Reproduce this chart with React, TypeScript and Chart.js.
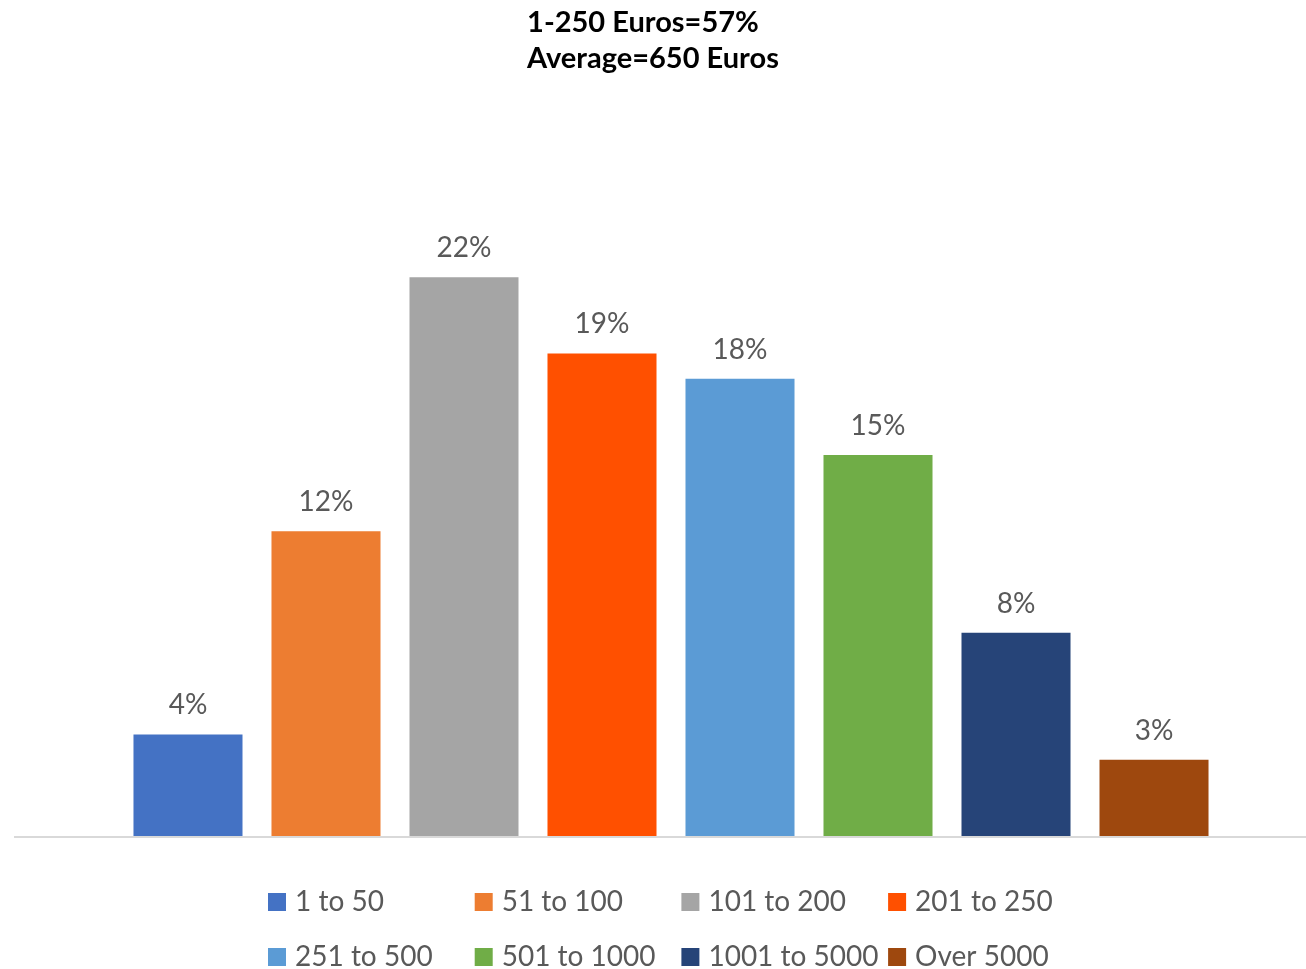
import React, { useEffect, useRef } from "react";
import { Chart, registerables } from "chart.js";

Chart.register(...registerables);

const TITLE_LINES = ["1-250 Euros=57%", "Average=650 Euros"];
const CATEGORIES = ["1 to 50", "51 to 100", "101 to 200", "201 to 250", "251 to 500", "501 to 1000", "1001 to 5000", "Over 5000"];
const VALUES = [4, 12, 22, 19, 18, 15, 8, 3];
const COLORS = ["#4472C4", "#ED7D31", "#A5A5A5", "#FF5000", "#5B9BD5", "#70AD47", "#264478", "#9E480E"];
const Y_MAX = 25;

const FONT = "Lato, 'Open Sans', sans-serif";
const LABEL_COLOR = "#595959";
const VIEW_W = 1306;
const VIEW_H = 969;
const CANVAS_W = 1328;

const excelPlugin = {
  id: "excelDecor",
  afterDatasetsDraw(chart: any) {
    const ctx = chart.ctx as CanvasRenderingContext2D;
    const { left, bottom } = chart.chartArea;
    ctx.save();
    // baseline
    ctx.strokeStyle = "#D9D9D9";
    ctx.lineWidth = 2;
    ctx.beginPath();
    ctx.moveTo(left, bottom + 1);
    ctx.lineTo(chart.width, bottom + 1);
    ctx.stroke();

    // data labels
    ctx.fillStyle = LABEL_COLOR;
    ctx.font = `28px ${FONT}`;
    ctx.textAlign = "center";
    ctx.textBaseline = "alphabetic";
    chart.data.datasets.forEach((ds: any, i: number) => {
      const meta = chart.getDatasetMeta(i);
      meta.data.forEach((el: any, j: number) => {
        ctx.fillText(`${ds.data[j]}%`, el.x, el.y - 20);
      });
    });

    // title (left-aligned block, centred in the visible view)
    ctx.fillStyle = "#000000";
    ctx.font = `bold 29px ${FONT}`;
    ctx.textAlign = "left";
    const widths = TITLE_LINES.map((t) => ctx.measureText(t).width);
    const x0 = VIEW_W / 2 - Math.max(...widths) / 2;
    TITLE_LINES.forEach((t, k) => ctx.fillText(t, x0, 32 + k * 36));

    // legend
    ctx.font = `28px ${FONT}`;
    chart.data.datasets.forEach((ds: any, i: number) => {
      const col = i % 4;
      const row = Math.floor(i / 4);
      const x = 268 + col * 206.7;
      const y = 911 + row * 55;
      ctx.fillStyle = ds.backgroundColor;
      ctx.fillRect(x, y - 18, 18, 18);
      ctx.fillStyle = LABEL_COLOR;
      ctx.fillText(ds.label, x + 27, y);
    });
    ctx.restore();
  },
};

export default function App() {
  const ref = useRef<HTMLCanvasElement | null>(null);

  useEffect(() => {
    if (!ref.current) return;
    const chart = new Chart(ref.current, {
      type: "bar",
      data: {
        labels: [""],
        datasets: CATEGORIES.map((c, i) => ({
          label: c,
          data: [VALUES[i]],
          backgroundColor: COLORS[i],
          borderWidth: 0,
        })),
      },
      options: {
        animation: false,
        responsive: false,
        maintainAspectRatio: false,
        devicePixelRatio: 1,
        categoryPercentage: 0.8402,
        barPercentage: 0.79,
        layout: { padding: { left: 14, right: 0, top: 201, bottom: 133 } },
        scales: {
          x: { display: false },
          y: { display: false, min: 0, max: Y_MAX },
        },
        plugins: {
          legend: { display: false },
          title: { display: false },
          tooltip: { enabled: false },
        },
      } as any,
      plugins: [excelPlugin],
    });
    return () => chart.destroy();
  }, []);

  return (
    <div style={{ position: "absolute", left: 0, top: 0, width: VIEW_W, height: VIEW_H, overflow: "hidden", background: "#fff" }}>
      <canvas ref={ref} width={CANVAS_W} height={VIEW_H} style={{ display: "block" }} />
    </div>
  );
}
